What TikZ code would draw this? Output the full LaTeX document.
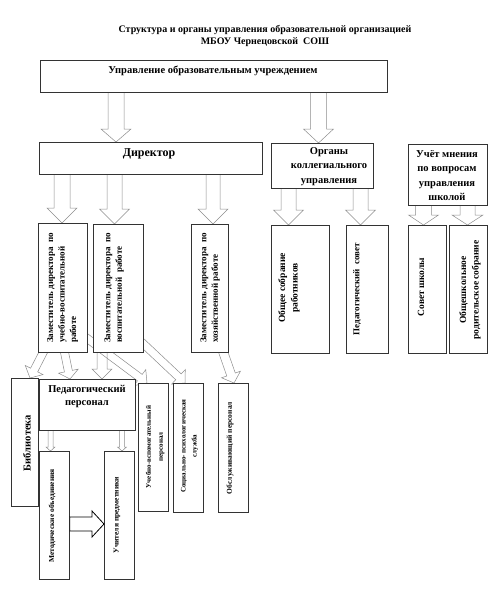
\documentclass[tikz,border=0pt]{standalone}
\usepackage{fontspec}
\setmainfont{Liberation Serif}
\usetikzlibrary{calc,backgrounds}
\tikzset{
  box/.style={draw=black!80, line width=0.7pt, fill=white, inner sep=0pt, anchor=north west},
  garrow/.style={draw=black!45, line width=0.5pt},
  barrow/.style={draw=black, line width=0.8pt, fill=white},
  htext/.style={font=\bfseries\fontsize{10.5}{14.5}\selectfont, align=center, inner sep=0pt},
  rtext/.style={rotate=90, font=\bfseries\fontsize{9}{11.5}\selectfont, align=left, inner sep=0pt},
  rctext/.style={rotate=90, font=\bfseries\fontsize{9.5}{12.5}\selectfont, align=center, inner sep=0pt},
  rsmall/.style={rotate=90, font=\bfseries\fontsize{7.5}{11}\selectfont, align=center, inner sep=0pt},
}
\newcommand\holarrow[6]{%
  \coordinate (hA) at #2; \coordinate (hB) at #3;
  \coordinate (hH) at ($(hB)!#6!(hA)$);
  \draw[#1] ($(hA)!#4!90:(hB)$) -- ($(hH)!#4!90:(hB)$) -- ($(hH)!#5!90:(hB)$) -- (hB)
    -- ($(hH)!#5!-90:(hB)$) -- ($(hH)!#4!-90:(hB)$) -- ($(hA)!#4!-90:(hB)$) -- cycle;}
\begin{document}
\begin{tikzpicture}[x=1pt,y=-1pt]
\useasboundingbox (0,0) rectangle (497,606);
% title
\node[htext, font=\bfseries\fontsize{10}{12}\selectfont] (title) at (265,36)
  {Структура и органы управления образовательной организацией\\МБОУ Чернецовской\ \ СОШ};
% boxes
\node[box, minimum width=347pt, minimum height=32pt] (top) at (40,60) {};
\node[htext] (toptext) at (213,71) {Управление образовательным учреждением};
\node[box, minimum width=223pt, minimum height=32pt] (dir) at (39,142) {};
\node[htext, font=\bfseries\fontsize{12}{14}\selectfont] (dirtext) at (149,154) {Директор};
\node[box, minimum width=102pt, minimum height=45pt] (org) at (271,143) {};
\node[htext] (orgtext) at (329,166.5) {Органы\\коллегиального\\управления};
\node[box, minimum width=79pt, minimum height=61pt] (uch) at (408,144) {};
\node[htext, font=\bfseries\fontsize{10.5}{14.3}\selectfont] (uchtext) at (447,175.5) {Учёт мнения\\по вопросам\\управления\\школой};
% deputies
\node[box, minimum width=49pt, minimum height=129pt] (zam1) at (38,223) {};
\node[rtext] (zam1t) at (62.5,288) {Заместитель директора\ \ по\\учебно-воспитательной\\работе};
\node[box, minimum width=50pt, minimum height=128pt] (zam2) at (93,224) {};
\node[rtext] (zam2t) at (114,288) {Заместитель директора\ \ по\\воспитательной\ \ работе};
\node[box, minimum width=37pt, minimum height=128pt] (zam3) at (191,224) {};
\node[rtext] (zam3t) at (210,288) {Заместитель директора\ \ по\\хозяйственной работе};
% collegial
\node[box, minimum width=58pt, minimum height=128pt] (obsh) at (271,225) {};
\node[rctext] (obsht) at (289,288) {Общее собрание\\работников};
\node[box, minimum width=42pt, minimum height=128pt] (pedsov) at (346,225) {};
\node[rtext] (pedsovt) at (357,289) {Педагогический\ \ совет};
\node[box, minimum width=38pt, minimum height=128pt] (sovet) at (408,225) {};
\node[rctext] (sovett) at (421,287) {Совет школы};
\node[box, minimum width=38pt, minimum height=128pt] (rod) at (449,225) {};
\node[rctext] (rodt) at (470,290) {Общешкольное\\родительское собрание};
% lower
\node[box, minimum width=27pt, minimum height=128pt] (bibl) at (11,378) {};
\node[rctext, font=\bfseries\fontsize{10.5}{12}\selectfont] (biblt) at (27,443) {Библиотека};
\node[box, minimum width=96pt, minimum height=51pt] (pedper) at (39,379) {};
\node[htext, font=\bfseries\fontsize{10.5}{13}\selectfont] (pedpert) at (87,396.5) {Педагогический\\персонал};
\node[box, minimum width=30pt, minimum height=128pt] (uvp) at (138,383) {};
\node[rsmall, font=\bfseries\fontsize{7}{12}\selectfont] (uvpt) at (155,447) {Учебно-вспомогательный\\персонал};
\node[box, minimum width=30pt, minimum height=129pt] (spc) at (173,383) {};
\node[rsmall, font=\bfseries\fontsize{7}{11}\selectfont] (spct) at (189.5,446) {Социально- психологическая\\служба};
\node[box, minimum width=30pt, minimum height=129pt] (obsl) at (218,383) {};
\node[rsmall] (obslt) at (230,448) {Обслуживающий персонал};
\node[box, minimum width=30pt, minimum height=128pt] (met) at (39,451) {};
\node[rsmall] (mett) at (52,516) {Методические объединения};
\node[box, minimum width=30pt, minimum height=128pt] (ucht) at (104,451) {};
\node[rsmall] (uchtt) at (117,515) {Учителя предметники};
% black arrow
\holarrow{barrow}{(met.east |- 0,524)}{(ucht.west |- 0,524)}{7pt}{13pt}{12pt}
% gray arrows behind boxes
\begin{scope}[on background layer]
\holarrow{garrow}{(116,0 |- top.south)}{(116,0 |- dir.north)}{8pt}{15pt}{13pt}
\holarrow{garrow}{(318.5,0 |- top.south)}{(318.5,0 |- org.north)}{8pt}{15pt}{14pt}
\holarrow{garrow}{(62,0 |- dir.south)}{(62,0 |- zam1.north)}{8pt}{15pt}{15pt}
\holarrow{garrow}{(114.5,0 |- dir.south)}{(114.5,0 |- zam2.north)}{7.5pt}{15pt}{15pt}
\holarrow{garrow}{(213,0 |- dir.south)}{(213,0 |- zam3.north)}{7pt}{15pt}{15pt}
\holarrow{garrow}{(288.5,0 |- org.south)}{(288.5,0 |- obsh.north)}{7.5pt}{15pt}{15pt}
\holarrow{garrow}{(360.5,0 |- org.south)}{(360.5,0 |- pedsov.north)}{7.5pt}{15pt}{15pt}
\holarrow{garrow}{(423.5,0 |- uch.south)}{(423.5,0 |- sovet.north)}{8pt}{15pt}{10pt}
\holarrow{garrow}{(467.5,0 |- uch.south)}{(467.5,0 |- rod.north)}{7.5pt}{15.5pt}{10pt}
% to lower boxes
\holarrow{garrow}{(47,345)}{(30,0 |- bibl.north)}{4pt}{10pt}{9pt}
\holarrow{garrow}{(63,345)}{(70,0 |- pedper.north)}{4pt}{10pt}{8pt}
\holarrow{garrow}{(102,345)}{(102,0 |- pedper.north)}{5pt}{10pt}{10pt}
\holarrow{garrow}{(80,333)}{(147,0 |- uvp.north)}{4pt}{10pt}{9pt}
\holarrow{garrow}{(133,334)}{(185,0 |- spc.north)}{4pt}{10pt}{9pt}
\holarrow{garrow}{(219,340)}{(234,0 |- obsl.north)}{4.5pt}{10pt}{9pt}
\holarrow{garrow}{(50.5,0 |- pedper.south)}{(50.5,0 |- met.north)}{2.5pt}{4.5pt}{4pt}
\holarrow{garrow}{(122,0 |- pedper.south)}{(122,0 |- ucht.north)}{2.5pt}{4.5pt}{4pt}
\end{scope}
\end{tikzpicture}
\end{document}
